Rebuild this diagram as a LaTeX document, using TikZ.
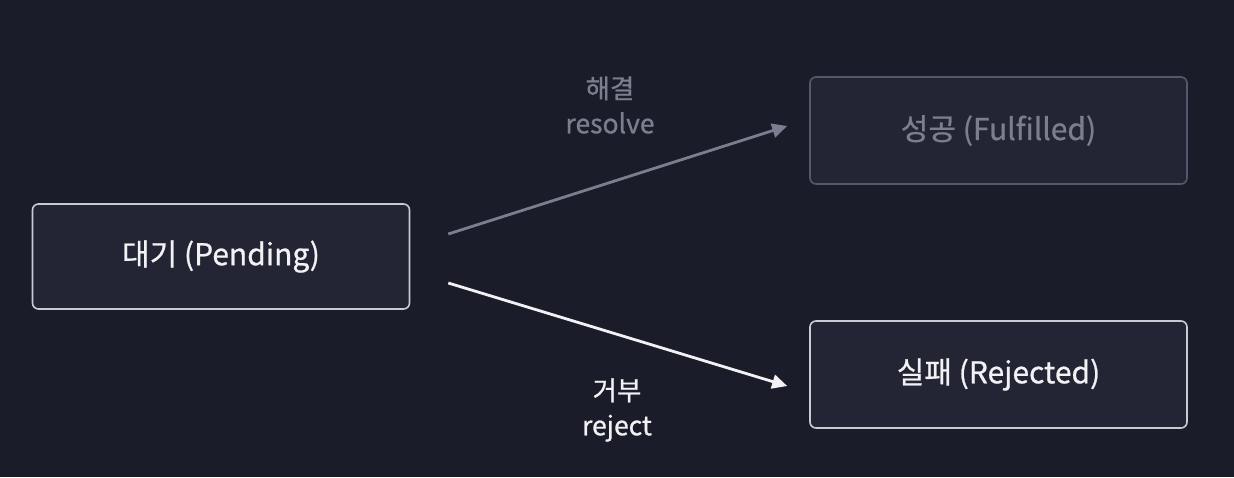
\documentclass[tikz,border=0pt]{standalone}
\usepackage{fontspec}
\setmainfont{Noto Sans CJK KR}[FakeBold=0.8]
\usetikzlibrary{arrows.meta,positioning}

\definecolor{bgdark}{HTML}{1B1C29}
\definecolor{boxfill}{HTML}{232434}
\definecolor{lineon}{HTML}{C9CAD2}
\definecolor{lineoff}{HTML}{55576A}
\definecolor{texton}{HTML}{F2F2F4}
\definecolor{textoff}{HTML}{7C7D8E}

\tikzset{
  statebox/.style={draw=lineon, fill=boxfill, line width=1.6pt, rounded corners=6pt,
    minimum width=377pt, minimum height=105pt, text=texton,
    font=\fontsize{30}{34}\selectfont},
  stateoff/.style={statebox, draw=lineoff, text=textoff},
  edgelabel/.style={font=\fontsize{26.5}{35}\selectfont, align=center},
  flow/.style={line width=2.8pt, -{Triangle[length=15pt,width=14pt]}}
}

\begin{document}
\begin{tikzpicture}[x=1pt,y=-1pt]
    % Background
    \fill[bgdark] (0,0) rectangle (1234,477);
    \useasboundingbox (0,0) rectangle (1234,477);

    % States
    \node[statebox] (pending) at (221,256.5) {대기 (Pending)};
    \node[stateoff, minimum height=107pt] (fulfilled) at (998.5,130.5) {성공 (Fulfilled)};
    \node[statebox, minimum height=107pt] (rejected) at (998.5,374.5) {실패 (Rejected)};

    % Arrow ends
    \coordinate (resolvefrom) at ([shift={(38,-22.5)}]pending.east);
    \coordinate (resolveto) at ([shift={(-22,-4.5)}]fulfilled.west);
    \coordinate (rejectfrom) at ([shift={(38,26.5)}]pending.east);
    \coordinate (rejectto) at ([shift={(-22,11.5)}]rejected.west);

    % Transitions
    \draw[flow, textoff] (resolvefrom) -- (resolveto);
    \draw[flow, texton] (rejectfrom) -- (rejectto);

    % Labels
    \node[edgelabel, textoff] (resolvetext) at (610,105) {해결\\resolve};
    \node[edgelabel, texton] (rejecttext) at (617,410) {거부\\reject};
\end{tikzpicture}
\end{document}
